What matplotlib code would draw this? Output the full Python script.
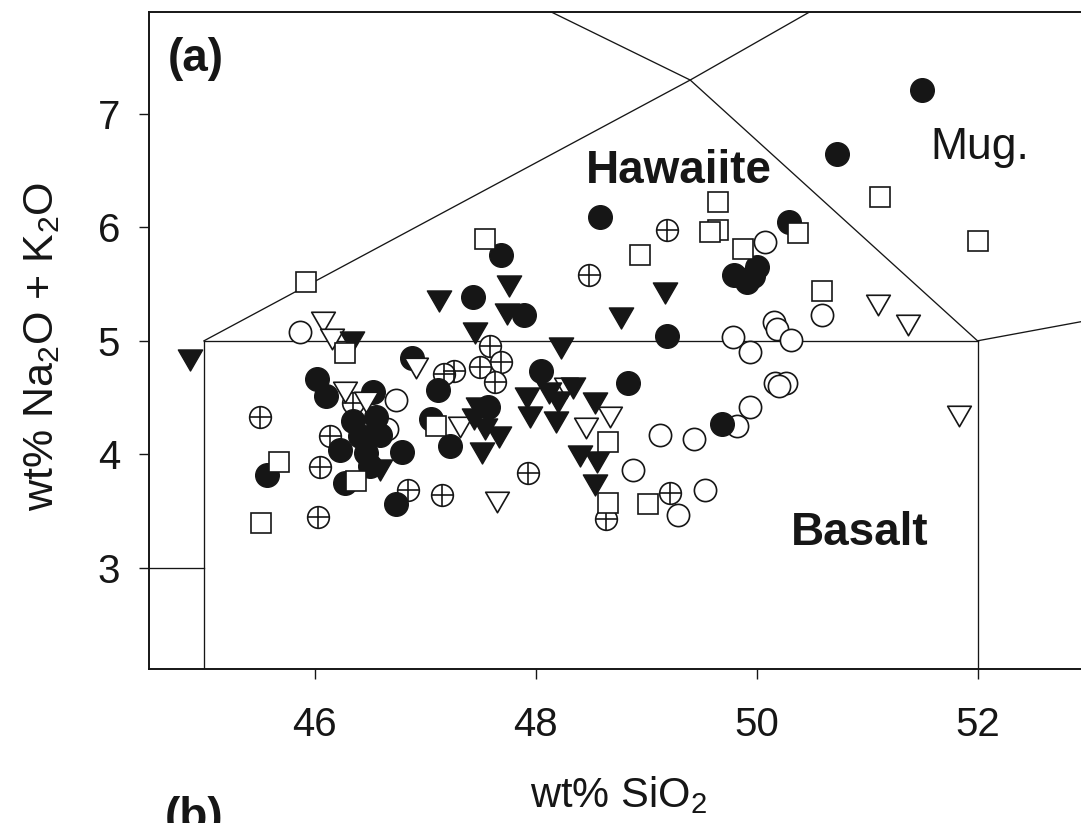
import matplotlib
matplotlib.use('Agg')
import matplotlib.pyplot as plt
from matplotlib.path import Path

plt.rcParams['font.family'] = ['Liberation Sans', 'DejaVu Sans']
plt.rcParams['mathtext.fontset'] = 'custom'
plt.rcParams['mathtext.rm'] = 'Liberation Sans'
plt.rcParams['mathtext.it'] = 'Liberation Sans:italic'
plt.rcParams['mathtext.bf'] = 'Liberation Sans:bold'

# ---------------- data (wt% SiO2, wt% Na2O+K2O) ----------------
filled_circle_x = [51.50, 50.73, 48.58, 50.29, 49.80, 49.91, 50.00, 49.97, 49.19, 47.69,
                   47.43, 47.90, 48.05, 48.84, 49.69, 47.57, 46.88, 47.12, 46.02, 46.10,
                   46.53, 46.35, 46.56, 46.59, 46.23, 46.47, 46.79, 46.28, 46.74, 46.50,
                   46.41, 47.05, 47.23, 45.57, 46.56]
filled_circle_y = [7.21, 6.65, 6.09, 6.05, 5.58, 5.52, 5.65, 5.57, 5.04, 5.76,
                   5.39, 5.23, 4.73, 4.63, 4.27, 4.42, 4.85, 4.57, 4.66, 4.51,
                   4.55, 4.29, 4.33, 4.17, 4.04, 4.01, 4.02, 3.75, 3.56, 3.90,
                   4.16, 4.31, 4.07, 3.82, 4.20]

open_circle_x = [50.08, 50.59, 50.16, 50.19, 50.31, 49.79, 49.94, 50.17, 50.27, 50.20,
                 49.94, 49.82, 49.13, 49.43, 49.53, 49.29, 48.88, 45.87, 46.74, 46.66]
open_circle_y = [5.87, 5.23, 5.17, 5.10, 5.01, 5.03, 4.90, 4.63, 4.63, 4.60,
                 4.42, 4.25, 4.17, 4.13, 3.68, 3.46, 3.86, 5.08, 4.48, 4.22]

cross_circle_x = [49.19, 48.48, 47.59, 47.69, 47.50, 47.63, 47.26, 47.17, 47.93, 48.64,
                  49.22, 47.15, 46.85, 46.03, 46.05, 46.14, 45.51, 46.35]
cross_circle_y = [5.98, 5.58, 4.95, 4.81, 4.77, 4.64, 4.73, 4.71, 3.83, 3.43,
                  3.66, 3.64, 3.68, 3.45, 3.89, 4.16, 4.33, 4.45]

square_x = [51.12, 52.00, 49.65, 49.65, 49.58, 48.95, 50.38, 49.88, 50.59, 47.54,
            45.92, 46.28, 48.66, 48.66, 49.02, 46.38, 45.68, 45.52, 47.10]
square_y = [6.27, 5.88, 6.22, 5.98, 5.96, 5.76, 5.95, 5.81, 5.44, 5.90,
            5.52, 4.89, 4.11, 3.57, 3.56, 3.76, 3.93, 3.39, 4.25]

filled_tri_x = [44.87, 46.34, 47.13, 47.76, 47.74, 47.45, 49.17, 48.77, 48.23, 47.92,
                48.12, 48.34, 48.20, 47.95, 48.19, 48.54, 48.40, 48.56, 48.54, 47.48,
                47.44, 47.54, 47.67, 47.52, 46.59]
filled_tri_y = [4.83, 4.99, 5.35, 5.48, 5.24, 5.07, 5.42, 5.20, 4.94, 4.50,
                4.54, 4.58, 4.46, 4.33, 4.28, 4.45, 3.98, 3.93, 3.73, 4.41,
                4.31, 4.22, 4.15, 4.01, 3.86]

open_tri_x = [51.10, 51.37, 51.83, 48.67, 48.46, 47.65, 47.32, 46.08, 46.16, 46.28,
              46.47, 46.92, 48.28]
open_tri_y = [5.32, 5.14, 4.34, 4.33, 4.23, 3.58, 4.24, 5.17, 5.02, 4.55,
              4.46, 4.76, 4.58]

# TAS field boundaries
bound_basalt_left_x = [45, 45]
bound_basalt_left_y = [0, 5]
bound_basalt_right_x = [52, 52]
bound_basalt_right_y = [0, 5]
bound_picro_x = [41, 45]
bound_picro_y = [3, 3]
bound_basalt_top_x = [45, 52]
bound_basalt_top_y = [5, 5]
bound_hawaiite_left_x = [45, 49.4, 53]
bound_hawaiite_left_y = [5, 7.3, 9.3]
bound_hawaiite_right_x = [45, 49.4, 52, 57]
bound_hawaiite_right_y = [9.4, 7.3, 5, 5.9]

x_ticks = [46, 48, 50, 52]
y_ticks = [3, 4, 5, 6, 7]

# ---------------- figure ----------------
W, H = 1081, 823
fig = plt.figure(figsize=(W / 100, H / 100), dpi=100)
ax = fig.add_axes([148.75 / W, 1 - 668.5 / H, 939.25 / W, 656.5 / H])
ax.set_xlim(44.5, 53)
ax.set_ylim(2.11, 7.9)

ink = '#161616'
lw_b = 0.95
for bx, by in [(bound_basalt_left_x, bound_basalt_left_y),
               (bound_basalt_right_x, bound_basalt_right_y),
               (bound_picro_x, bound_picro_y),
               (bound_basalt_top_x, bound_basalt_top_y),
               (bound_hawaiite_left_x, bound_hawaiite_left_y),
               (bound_hawaiite_right_x, bound_hawaiite_right_y)]:
    ax.plot(bx, by, color=ink, lw=lw_b, zorder=1)

tri = Path([(-1, 0.866), (1, 0.866), (0, -0.866), (-1, 0.866)],
           [Path.MOVETO, Path.LINETO, Path.LINETO, Path.CLOSEPOLY])

mew = 1.2
ax.plot(open_circle_x, open_circle_y, ls='none', marker='o', ms=16,
        mfc='white', mec=ink, mew=mew, zorder=3)
ax.plot(cross_circle_x, cross_circle_y, ls='none', marker='o', ms=15.6,
        mfc='white', mec=ink, mew=mew, zorder=4)
ax.plot(cross_circle_x, cross_circle_y, ls='none', marker='+', ms=15.6,
        mec=ink, mew=mew, zorder=4.1)
ax.plot(filled_circle_x, filled_circle_y, ls='none', marker='o', ms=17,
        mfc=ink, mec=ink, mew=1, zorder=5)
ax.plot(open_tri_x, open_tri_y, ls='none', marker=tri, ms=17,
        mfc='white', mec=ink, mew=mew, zorder=6)
ax.plot(filled_tri_x, filled_tri_y, ls='none', marker=tri, ms=17.5,
        mfc=ink, mec=ink, mew=1, zorder=7)
ax.plot(square_x, square_y, ls='none', marker='s', ms=14.3,
        mfc='white', mec=ink, mew=mew, zorder=8)

# axes styling
for s in ['left', 'bottom', 'top', 'right']:
    ax.spines[s].set_linewidth(1.4)
    ax.spines[s].set_color(ink)
ax.set_xticks(x_ticks)
ax.set_yticks(y_ticks)
ax.tick_params(axis='both', direction='out', length=7.2, width=1.0, color=ink,
               labelsize=29, labelcolor=ink, top=False, right=False)
ax.tick_params(axis='x', pad=20)
ax.tick_params(axis='y', pad=13.5)

# annotations
ax.text(44.67, 7.38, '(a)', fontsize=33, fontweight='bold', color=ink,
        ha='left', va='baseline')
ax.text(49.30, 6.39, 'Hawaiite', fontsize=33, fontweight='bold', color=ink,
        ha='center', va='baseline')
ax.text(51.57, 6.60, 'Mug.', fontsize=32, color=ink, ha='left', va='baseline')
ax.text(50.31, 3.20, 'Basalt', fontsize=33, fontweight='bold', color=ink,
        ha='left', va='baseline')

fig.text(618 / W, 1 - 806.7 / H, r'wt% SiO$_\mathregular{2}$', fontsize=30,
         color=ink, ha='center', va='baseline')
fig.text(53 / W, 1 - 346 / H, r'wt% Na$_\mathregular{2}$O + K$_\mathregular{2}$O',
         fontsize=31, color=ink, rotation=90, rotation_mode='anchor',
         ha='center', va='baseline')
fig.text(165 / W, 1 - 829.5 / H, '(b)', fontsize=33, fontweight='bold',
         color=ink, ha='left', va='baseline')

fig.savefig('out.png', dpi=100)
